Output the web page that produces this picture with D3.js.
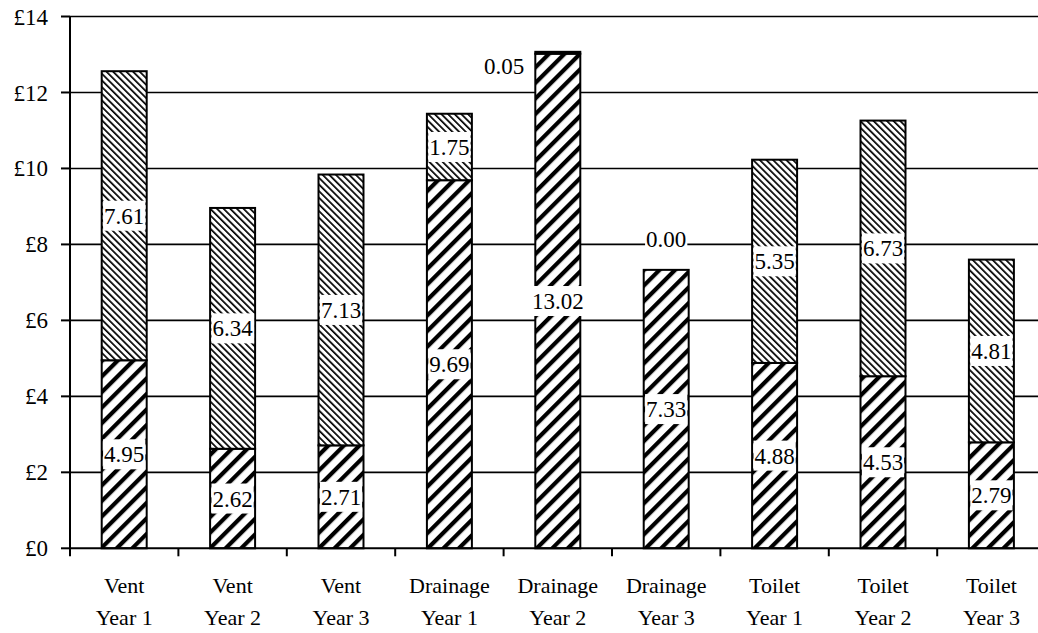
<!DOCTYPE html>
<html>
<head>
<meta charset="utf-8">
<script src="https://cdn.jsdelivr.net/npm/d3@7"></script>
<style>
    html, body { margin: 0; padding: 0; background: #ffffff; }
</style>
</head>
<body>
<div id="chart"></div>
<script>
// Chart data
let categoryNames = ['Vent', 'Vent', 'Vent', 'Drainage', 'Drainage', 'Drainage', 'Toilet', 'Toilet', 'Toilet'];
let categoryYears = ['Year 1', 'Year 2', 'Year 3', 'Year 1', 'Year 2', 'Year 3', 'Year 1', 'Year 2', 'Year 3'];
let baseValues = [4.95, 2.62, 2.71, 9.69, 13.02, 7.33, 4.88, 4.53, 2.79];
let upperValues = [7.61, 6.34, 7.13, 1.75, 0.05, 0.00, 5.35, 6.73, 4.81];
let yTickValues = [0, 2, 4, 6, 8, 10, 12, 14];

let fontFamily = "'Liberation Serif', 'Times New Roman', Times, serif";

let width = 1038,
    height = 633,
    margin = {top: 16.5, right: -7.6, bottom: 84.7, left: 70};

let chartWidth = width - margin.left - margin.right,
    chartHeight = height - margin.top - margin.bottom;

let keys = categoryNames.map(function(d, i) { return i; });

let x = d3.scaleBand().domain(keys).range([0, chartWidth]).padding(0);
let y = d3.scaleLinear().domain([0, 14]).range([chartHeight, 0]);

let barWidth = x.bandwidth() * 0.415;

let svg = d3.select('#chart')
    .append('svg')
    .attr('width', width)
    .attr('height', height)
    .attr('font-family', fontFamily);

// #region Patterns

let defs = svg.append('defs');

function addStripes(id, size, lineWidth, angle) {
    let p = defs.append('pattern')
        .attr('id', id)
        .attr('patternUnits', 'userSpaceOnUse')
        .attr('width', size)
        .attr('height', size)
        .attr('patternTransform', 'rotate(' + angle + ')');
    p.append('rect')
        .attr('width', size)
        .attr('height', size)
        .attr('fill', '#ffffff');
    p.append('rect')
        .attr('x', 0)
        .attr('y', 0)
        .attr('width', lineWidth)
        .attr('height', size)
        .attr('fill', '#000000');
}

addStripes('wideUp', 11, 4.2, 45);
addStripes('narrowDown', 4.7, 1.7, -45);

// #endregion

let canvas = svg.append('g')
    .attr('transform', 'translate(' + margin.left + ',' + margin.top + ')');

// Gridlines
canvas.selectAll('.grid')
    .data(yTickValues.filter(function(d) { return d > 0; }))
    .enter()
    .append('line')
    .attr('class', 'grid')
    .attr('x1', 0)
    .attr('x2', width)
    .attr('y1', function(d) { return y(d); })
    .attr('y2', function(d) { return y(d); })
    .style('stroke', '#000000')
    .style('stroke-width', 1.6);

// Stacked segments
let segments = [];
keys.forEach(function(k) {
    segments.push({key: k, y0: 0, y1: baseValues[k], value: baseValues[k], fill: 'url(#wideUp)'});
    segments.push({key: k, y0: baseValues[k], y1: baseValues[k] + upperValues[k], value: upperValues[k], fill: 'url(#narrowDown)'});
});

function barCenter(k) {
    return x(k) + x.bandwidth() / 2;
}

canvas.selectAll('.bar')
    .data(segments.filter(function(d) { return d.value > 0; }))
    .enter()
    .append('rect')
    .attr('class', 'bar')
    .attr('x', function(d) { return barCenter(d.key) - barWidth / 2; })
    .attr('width', barWidth)
    .attr('y', function(d) { return y(d.y1); })
    .attr('height', function(d) { return y(d.y0) - y(d.y1); })
    .attr('fill', function(d) { return d.fill; })
    .style('stroke', '#000000')
    .style('stroke-width', 2);

// Axes
canvas.append('line')
    .attr('x1', 0).attr('x2', width)
    .attr('y1', chartHeight).attr('y2', chartHeight)
    .style('stroke', '#000000').style('stroke-width', 2);

canvas.append('line')
    .attr('x1', 0).attr('x2', 0)
    .attr('y1', 0).attr('y2', chartHeight + 8)
    .style('stroke', '#000000').style('stroke-width', 2);

canvas.selectAll('.ytick')
    .data(yTickValues)
    .enter()
    .append('line')
    .attr('class', 'ytick')
    .attr('x1', -9).attr('x2', 0)
    .attr('y1', function(d) { return y(d); })
    .attr('y2', function(d) { return y(d); })
    .style('stroke', '#000000').style('stroke-width', 2);

canvas.selectAll('.ylabel')
    .data(yTickValues)
    .enter()
    .append('text')
    .attr('class', 'ylabel')
    .attr('x', -22)
    .attr('y', function(d) { return y(d); })
    .attr('dy', '0.35em')
    .attr('text-anchor', 'end')
    .attr('font-family', fontFamily)
    .attr('font-size', 23)
    .attr('fill', '#000000')
    .text(function(d) { return '£' + d; });

// x ticks sit on the category boundaries
canvas.selectAll('.xtick')
    .data(keys.slice(1))
    .enter()
    .append('line')
    .attr('class', 'xtick')
    .attr('x1', function(d) { return x(d); })
    .attr('x2', function(d) { return x(d); })
    .attr('y1', chartHeight)
    .attr('y2', chartHeight + 8)
    .style('stroke', '#000000').style('stroke-width', 2);

let xLabels = canvas.selectAll('.xlabel')
    .data(keys)
    .enter()
    .append('text')
    .attr('class', 'xlabel')
    .attr('text-anchor', 'middle')
    .attr('font-family', fontFamily)
    .attr('font-size', 22)
    .attr('fill', '#000000');

xLabels.append('tspan')
    .attr('x', function(d) { return barCenter(d); })
    .attr('y', chartHeight + 45)
    .text(function(d) { return categoryNames[d]; });

xLabels.append('tspan')
    .attr('x', function(d) { return barCenter(d); })
    .attr('y', chartHeight + 77)
    .text(function(d) { return categoryYears[d]; });

// Data labels with white boxes
function labelPosition(d) {
    let h = d.y1 - d.y0;
    if (d.y0 > 0 && d.value === 0) {
        return {x: barCenter(d.key), y: y(d.y1) - 31, anchor: 'middle'};
    }
    if (d.y0 > 0 && h < 0.5) {
        return {x: barCenter(d.key) - barWidth / 2 - 11, y: y(d.y1) + 14, anchor: 'end'};
    }
    return {x: barCenter(d.key), y: y((d.y0 + d.y1) / 2), anchor: 'middle'};
}

let labels = canvas.selectAll('.dlabel')
    .data(segments)
    .enter()
    .append('g')
    .attr('class', 'dlabel');

labels.each(function(d) {
    let g = d3.select(this);
    let pos = labelPosition(d);
    let t = g.append('text')
        .attr('x', pos.x)
        .attr('y', pos.y)
        .attr('dy', '0.35em')
        .attr('text-anchor', pos.anchor)
        .attr('font-family', fontFamily)
        .attr('font-size', 23)
        .attr('fill', '#000000')
        .text(d.value.toFixed(2));
    let box = t.node().getBBox();
    g.insert('rect', 'text')
        .attr('x', box.x - 1)
        .attr('y', pos.y - 15)
        .attr('width', box.width + 2)
        .attr('height', 30)
        .attr('fill', '#ffffff');
});
</script>
</body>
</html>
